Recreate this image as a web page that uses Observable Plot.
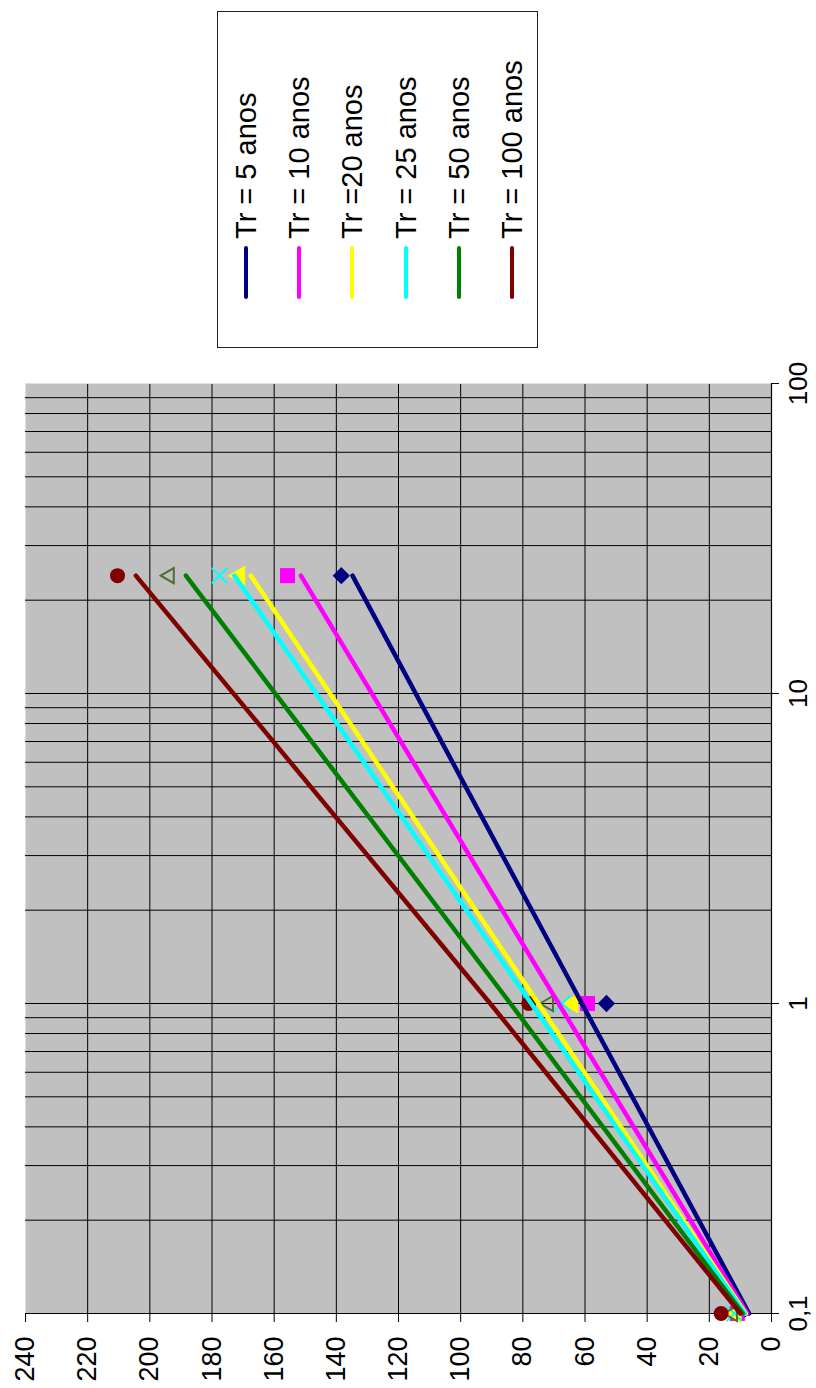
<!DOCTYPE html>
<html>
<head>
<meta charset="utf-8">
<script src="https://cdn.jsdelivr.net/npm/d3@7"></script>
<script src="https://cdn.jsdelivr.net/npm/@observablehq/plot@0.6"></script>
<style>
  html, body { margin: 0; padding: 0; background: #fff; }
  #wrap { position: relative; width: 816px; height: 1388px; overflow: hidden; background: #fff; }
  #rot { position: absolute; left: 0; top: 0; width: 1388px; height: 816px;
         transform-origin: 0 0; transform: translate(0px, 1388px) rotate(-90deg);
         font-family: "Liberation Sans", Arial, sans-serif; }
  #chart { position: absolute; left: 0; top: 0; }
  #legend { position: absolute; left: 1040px; top: 217px; width: 337px; height: 321px;
            border: 1px solid #222; background: #fff; box-sizing: border-box; }
  .item { position: absolute; left: 0; height: 0; }
  .sw { position: absolute; left: 48px; width: 53px; height: 4px; top: -2px; border-radius: 2px; }
  .lb { position: absolute; left: 108px; top: -17px; font-size: 29px; line-height: 34px; white-space: nowrap; color: #000; }
</style>
</head>
<body>
<div id="wrap"><div id="rot"><div id="chart"></div><div id="legend"></div></div></div>
<script>
// ---- data ----
const durations = [0.1, 1, 24];
const seriesNames = ["Tr = 5 anos", "Tr = 10 anos", "Tr =20 anos", "Tr = 25 anos", "Tr = 50 anos", "Tr = 100 anos"];

// observed points (markers)
const observed5   = [10.0, 53.1, 138.4];
const observed10  = [11.0, 59.2, 155.7];
const observed20  = [11.5, 64.0, 171.2];
const observed25  = [12.0, 67.3, 177.6];
const observed50  = [12.5, 71.7, 193.7];
const observed100 = [16.2, 78.1, 210.4];

// fitted curves (lines)
const fitted5   = [7.2, 61.0, 134.8];
const fitted10  = [7.8, 68.5, 151.4];
const fitted20  = [8.3, 75.0, 167.5];
const fitted25  = [8.6, 77.3, 172.8];
const fitted50  = [9.2, 84.0, 188.4];
const fitted100 = [10.0, 90.5, 204.5];

const xTicks = [0.1, 1, 10, 100];
const xTickLabels = ["0,1", "1", "10", "100"];
const yTicks = [0, 20, 40, 60, 80, 100, 120, 140, 160, 180, 200, 220, 240];
const xMinor = [0.2, 0.3, 0.4, 0.5, 0.6, 0.7, 0.8, 0.9, 1, 2, 3, 4, 5, 6, 7, 8, 9, 10, 20, 30, 40, 50, 60, 70, 80, 90];
const yGrid = [20, 40, 60, 80, 100, 120, 140, 160, 180, 200, 220];

// ---- styles ----
const lineColors = ["#000080", "#FF00FF", "#FFFF00", "#00FFFF", "#008000", "#800000"];
const markerStyles = [
  {symbol: "diamond2", r: 7.8, fill: "#000080", stroke: "none"},
  {symbol: "square", r: 8.5, fill: "#FF00FF", stroke: "none"},
  {symbol: "triangle", r: 7.5, fill: "#FFFF00", stroke: "none"},
  {symbol: "times", r: 7, fill: "none", stroke: "#00FFFF", strokeWidth: 2},
  {symbol: "triangle2", r: 7.2, fill: "none", stroke: "#556B2F", strokeWidth: 2},
  {symbol: "circle", r: 7.5, fill: "#800000", stroke: "none"}
];

const observed = [observed5, observed10, observed20, observed25, observed50, observed100];
const fitted = [fitted5, fitted10, fitted20, fitted25, fitted50, fitted100];

const markerMarks = observed.map((vals, i) =>
  Plot.dot(durations.map((d, j) => ({x: d, y: vals[j]})), {x: "x", y: "y", ...markerStyles[i]})
);
const lineMarks = fitted.map((vals, i) =>
  Plot.line(durations.map((d, j) => ({x: d, y: vals[j]})), {x: "x", y: "y", stroke: lineColors[i], strokeWidth: 4.5, strokeLinecap: "round"})
);

const chart = Plot.plot({
  width: 1030,
  height: 816,
  marginLeft: 74,
  marginRight: 26,
  marginTop: 25,
  marginBottom: 45,
  style: {fontFamily: "'Liberation Sans', Arial, sans-serif", color: "#000", background: "transparent", overflow: "visible"},
  x: {type: "log", domain: [0.1, 100]},
  y: {domain: [0, 240]},
  marks: [
    Plot.frame({fill: "#c0c0c0", stroke: "none"}),
    Plot.ruleX(xMinor, {stroke: "#000", strokeWidth: 1}),
    Plot.ruleY(yGrid, {stroke: "#000", strokeWidth: 1}),
    Plot.ruleY([0], {stroke: "#000", strokeWidth: 1.2}),
    Plot.ruleX([0.1], {stroke: "#000", strokeWidth: 1.2}),
    Plot.axisX({ticks: xTicks, tickFormat: d => xTickLabels[xTicks.indexOf(d)], tickSize: 8, tickPadding: 9, fontSize: 26, label: null}),
    Plot.axisY({ticks: yTicks, tickSize: 8, tickPadding: 15, fontSize: 27, label: null}),
    ...markerMarks,
    ...lineMarks
  ]
});
document.getElementById("chart").appendChild(chart);

// legend (lines only)
const legend = document.getElementById("legend");
const itemTops = [27.7, 81, 134.3, 187.7, 241, 294.3];
seriesNames.forEach((name, i) => {
  const it = document.createElement("div");
  it.className = "item";
  it.style.top = itemTops[i] + "px";
  const sw = document.createElement("div");
  sw.className = "sw";
  sw.style.background = lineColors[i];
  const lb = document.createElement("div");
  lb.className = "lb";
  lb.textContent = name;
  it.appendChild(sw);
  it.appendChild(lb);
  legend.appendChild(it);
});
</script>
</body>
</html>
